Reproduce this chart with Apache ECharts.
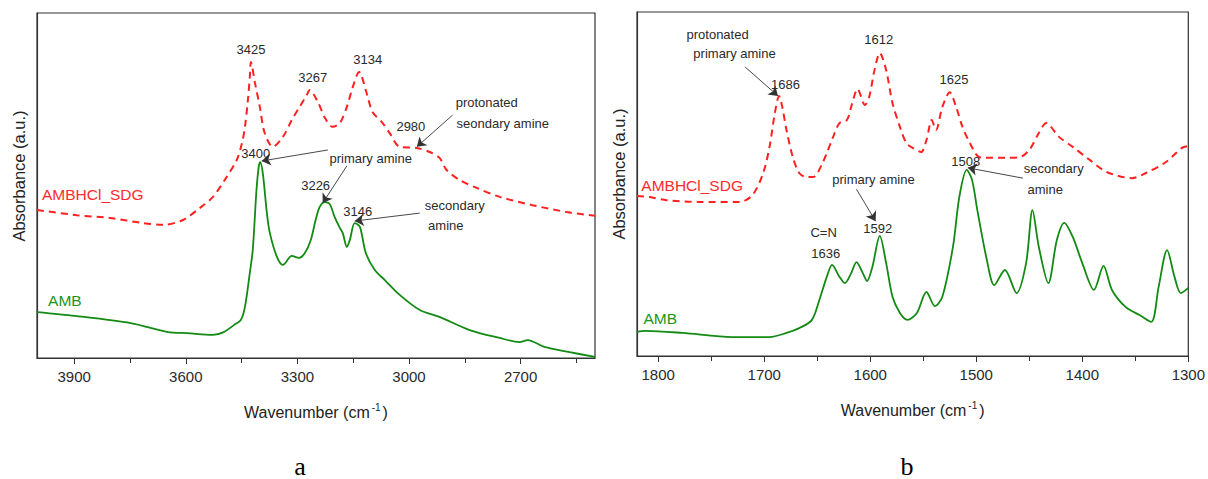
<!DOCTYPE html>
<html><head><meta charset="utf-8">
<script src="https://cdn.jsdelivr.net/npm/echarts@6/dist/echarts.min.js"></script>
<style>html,body{margin:0;padding:0;background:#fff;} #c{width:1208px;height:479px;}</style>
</head><body><div id="c"></div>
<script>
// ---------- Panel a (4000-2500 cm-1) ----------
const ticksA = [2700, 3000, 3300, 3600, 3900];
const minorA = [2550, 2850, 3150, 3450, 3750];
const ambWnA = [4000,3898,3748,3648,3597,3527,3498,3470,3452,3441,3428,3420,3410,3404,3400,3393,3382,3374,3355,3339,3315,3296,3280,3264,3251,3240,3226,3213,3200,3186,3178,3167,3159,3146,3132,3116,3092,3065,3025,2971,2918,2837,2756,2703,2681,2636,2568,2500];
const ambValA = [13.3,12.2,10.1,7.5,7.2,6.7,7.5,9.6,11.0,14.8,24.6,31.3,48.7,55.4,56.8,53.6,42.0,36.2,29.3,27.0,29.6,29.0,30.4,34.2,40.0,43.8,45.2,44.6,40.9,37.7,36.2,32.2,34.2,39.1,38.0,30.4,25.5,22.6,18.3,13.9,11.9,8.1,5.8,4.6,5.2,3.2,1.7,0.3];
const sdgWnA = [4000,3893,3804,3715,3662,3608,3562,3527,3490,3463,3449,3441,3433,3428,3425,3414,3401,3388,3366,3339,3315,3294,3275,3267,3245,3226,3205,3186,3167,3151,3134,3114,3098,3073,3052,3025,2980,2944,2918,2899,2864,2818,2756,2668,2576,2500];
const sdgValA = [42.9,41.4,40.6,39.1,38.6,40.0,43.5,46.7,52.5,57.4,62.3,67.0,74.8,81.4,85.8,79.7,72.8,65.2,61.2,64.1,69.0,72.8,76.2,77.7,74.2,69.6,67.0,68.1,72.8,78.6,82.9,76.8,71.3,68.4,65.2,61.2,60.9,59.7,58.0,54.5,51.6,49.3,46.7,44.3,42.3,41.2];
// annotation texts: [text, wavenumber, value]
const notesA = [["3425",3425,89.3],["3267",3259,81.2],["3134",3111,86.4],["2980",2995,67.0],
  ["protonated",2791,74.2],["seondary amine",2748,68.1],["3400",3412,59.4],["primary amine",3103,57.7],
  ["3226",3251,49.9],["3146",3138,42.6],["secondary",2877,44.3],["amine",2901,38.3]];
const arrowsA = [[2883,70.4,2979,61.2],[3218,60.3,3396,57.1],[3167,55.7,3232,44.9],[2971,42.0,3146,39.7]];
const seriesLabelsA = [["AMBHCl_SDG",3850,47.5,"#ff2a2a"],["AMB",3925,16.8,"#1a961a"]];

// ---------- Panel b (1820-1300 cm-1) ----------
const ticksB = [1300, 1400, 1500, 1600, 1700, 1800];
const minorB = [1350, 1450, 1550, 1650, 1750];
const ambWnB = [1820,1812,1777,1730,1695,1679,1667,1655,1648,1641,1636,1629,1624,1618,1613,1607,1603,1598,1591,1585,1579,1572,1565,1556,1547,1539,1532,1522,1516,1509,1504,1499,1490,1483,1473,1462,1453,1447,1441,1432,1424,1417,1409,1400,1389,1380,1372,1359,1346,1335,1328,1320,1313,1307,1300];
const ambValB = [7.0,7.3,6.7,5.5,5.5,6.7,8.1,10.5,16.3,23.0,26.5,23.0,21.2,24.1,27.3,24.1,21.8,25.9,34.9,27.0,17.2,12.5,10.5,12.5,18.6,14.5,17.2,31.7,46.2,54.1,51.2,42.4,27.9,20.6,25.0,18.3,27.0,42.4,31.7,21.2,33.7,38.7,34.6,27.0,19.2,26.2,19.2,14.2,11.9,9.9,20.1,30.8,23.0,18.3,19.8];
const sdgWnB = [1820,1808,1792,1761,1723,1711,1701,1695,1690,1686,1683,1679,1673,1667,1660,1654,1645,1635,1629,1622,1617,1612,1605,1601,1596,1591,1585,1579,1572,1566,1560,1552,1547,1542,1538,1532,1525,1519,1513,1506,1497,1485,1472,1459,1450,1441,1434,1422,1409,1393,1377,1353,1340,1321,1306,1300];
const sdgValB = [46.5,46.2,45.3,44.8,44.8,46.8,53.2,60.8,70.6,75.6,72.4,65.7,57.8,53.2,52.0,52.0,56.1,63.7,67.7,68.6,73.5,77.6,73.0,75.3,83.1,88.1,83.1,73.5,66.6,61.9,60.5,59.3,62.8,68.6,65.7,72.4,76.7,72.4,66.6,61.9,57.8,57.6,57.6,57.8,59.9,64.8,67.7,63.7,60.8,57.0,53.5,51.7,53.2,56.4,60.5,61.0];
const notesB = [["protonated",1744,93.6],["primary amine",1728,87.8],["1686",1680,78.8],["1612",1592,91.9],
  ["1625",1521,80.5],["1508",1510,56.4],["secondary",1427,54.4],["amine",1435,48.3],
  ["primary amine",1597,51.2],["1592",1593,37.2],["C=N",1644,36.0],["1636",1642,29.9]];
const arrowsB = [[1718,84.0,1687,75.6],[1456,51.7,1508,54.7],[1613,48.5,1595,39.2]];
const seriesLabelsB = [["AMBHCl_SDG",1768,49.7,"#ff2a2a"],["AMB",1798,10.8,"#1a961a"]];

const FONT = '"Liberation Sans", Arial, sans-serif';
const RED = '#ff2020', GREEN = '#138a13', TXT = '#2a2a2a';

function zip(a, b) { return a.map((v, i) => [v, b[i]]); }

function markPts(notes, labels) {
  const d = notes.map(n => ({ coord: [n[1], n[2]], label: { formatter: n[0], color: TXT, fontSize: 13 } }));
  labels.forEach(l => d.push({ coord: [l[1], l[2]], label: { formatter: l[0], color: l[3], fontSize: 15.5 } }));
  return { symbol: 'circle', symbolSize: 0, silent: true, itemStyle: { color: 'rgba(0,0,0,0)' },
    label: { show: true, position: 'inside', fontFamily: FONT }, data: d };
}
function markLns(arrows) {
  return { silent: true, symbol: ['none', 'arrow'], symbolSize: 9, label: { show: false },
    itemStyle: { color: '#111' },
    lineStyle: { color: '#333', width: 0.9, type: 'solid', opacity: 1 }, emphasis: { disabled: true },
    data: arrows.map(a => [
      { coord: [a[0], a[1]], symbol: 'none' },
      { coord: [a[2], a[3]], symbol: 'arrow', symbolSize: 9, itemStyle: { color: '#111' } }
    ]) };
}

function xAxes(grid, min, max, ticks, minor) {
  return [{
    gridIndex: grid, type: 'value', min: min, max: max, inverse: true,
    axisLine: { show: true, lineStyle: { color: '#333', width: 1.2 } },
    axisTick: { show: true, customValues: ticks, length: 6, lineStyle: { color: '#333' } },
    axisLabel: { show: true, customValues: ticks, fontSize: 15, color: TXT, margin: 11, fontFamily: FONT,
      formatter: v => String(v) },
    splitLine: { show: false },
    name: 'Wavenumber (cm{s|-1})', nameLocation: 'middle', nameGap: 44,
    nameTextStyle: { fontSize: 16, color: '#222', fontFamily: FONT,
      rich: { s: { fontSize: 10, color: '#222', fontFamily: FONT, padding: [0, 2, 10, 2] } } }
  }, {
    gridIndex: grid, type: 'value', min: min, max: max, inverse: true, position: 'bottom',
    axisLine: { show: false },
    axisTick: { show: true, customValues: minor, length: 5, lineStyle: { color: '#333' } },
    axisLabel: { show: false }, splitLine: { show: false }
  }];
}
function yAxis(grid) {
  return { gridIndex: grid, type: 'value', min: 0, max: 100,
    axisLine: { show: true, lineStyle: { color: '#333', width: 1.2 } },
    axisTick: { show: false }, axisLabel: { show: false }, splitLine: { show: false } };
}

const chart = echarts.init(document.getElementById('c'), null, { renderer: 'svg' });
chart.setOption({
  animation: false,
  backgroundColor: '#fff',
  grid: [
    { left: 37, top: 13, width: 558, height: 345, show: true, borderColor: '#333', borderWidth: 1.2 },
    { left: 637, top: 12, width: 552, height: 344, show: true, borderColor: '#333', borderWidth: 1.2 }
  ],
  xAxis: [...xAxes(0, 2500, 4000, ticksA, minorA), ...xAxes(1, 1300, 1820, ticksB, minorB)],
  yAxis: [yAxis(0), yAxis(1)],
  series: [
    { type: 'line', xAxisIndex: 0, yAxisIndex: 0, data: zip(sdgWnA, sdgValA), showSymbol: false, smooth: 0.3,
      lineStyle: { color: RED, width: 2, type: [7, 5] }, markPoint: markPts(notesA, seriesLabelsA), markLine: markLns(arrowsA) },
    { type: 'line', xAxisIndex: 0, yAxisIndex: 0, data: zip(ambWnA, ambValA), showSymbol: false, smooth: 0.3,
      lineStyle: { color: GREEN, width: 1.8 } },
    { type: 'line', xAxisIndex: 2, yAxisIndex: 1, data: zip(sdgWnB, sdgValB), showSymbol: false, smooth: 0.3,
      lineStyle: { color: RED, width: 2, type: [7, 5] }, markPoint: markPts(notesB, seriesLabelsB), markLine: markLns(arrowsB) },
    { type: 'line', xAxisIndex: 2, yAxisIndex: 1, data: zip(ambWnB, ambValB), showSymbol: false, smooth: 0.3,
      lineStyle: { color: GREEN, width: 1.8 } }
  ],
  graphic: [
    { type: 'text', x: 19, y: 176, rotation: Math.PI / 2, silent: true,
      style: { text: 'Absorbance (a.u.)', font: '16.5px ' + FONT, fill: '#222', align: 'center', verticalAlign: 'middle' } },
    { type: 'text', x: 619, y: 174, rotation: Math.PI / 2, silent: true,
      style: { text: 'Absorbance (a.u.)', font: '16.5px ' + FONT, fill: '#222', align: 'center', verticalAlign: 'middle' } },
    { type: 'text', x: 300, y: 466, silent: true,
      style: { text: 'a', font: '26px "Liberation Serif", "Times New Roman", serif', fill: '#000', align: 'center', verticalAlign: 'middle' } },
    { type: 'text', x: 907, y: 466, silent: true,
      style: { text: 'b', font: '26px "Liberation Serif", "Times New Roman", serif', fill: '#000', align: 'center', verticalAlign: 'middle' } }
  ]
});
</script></body></html>
